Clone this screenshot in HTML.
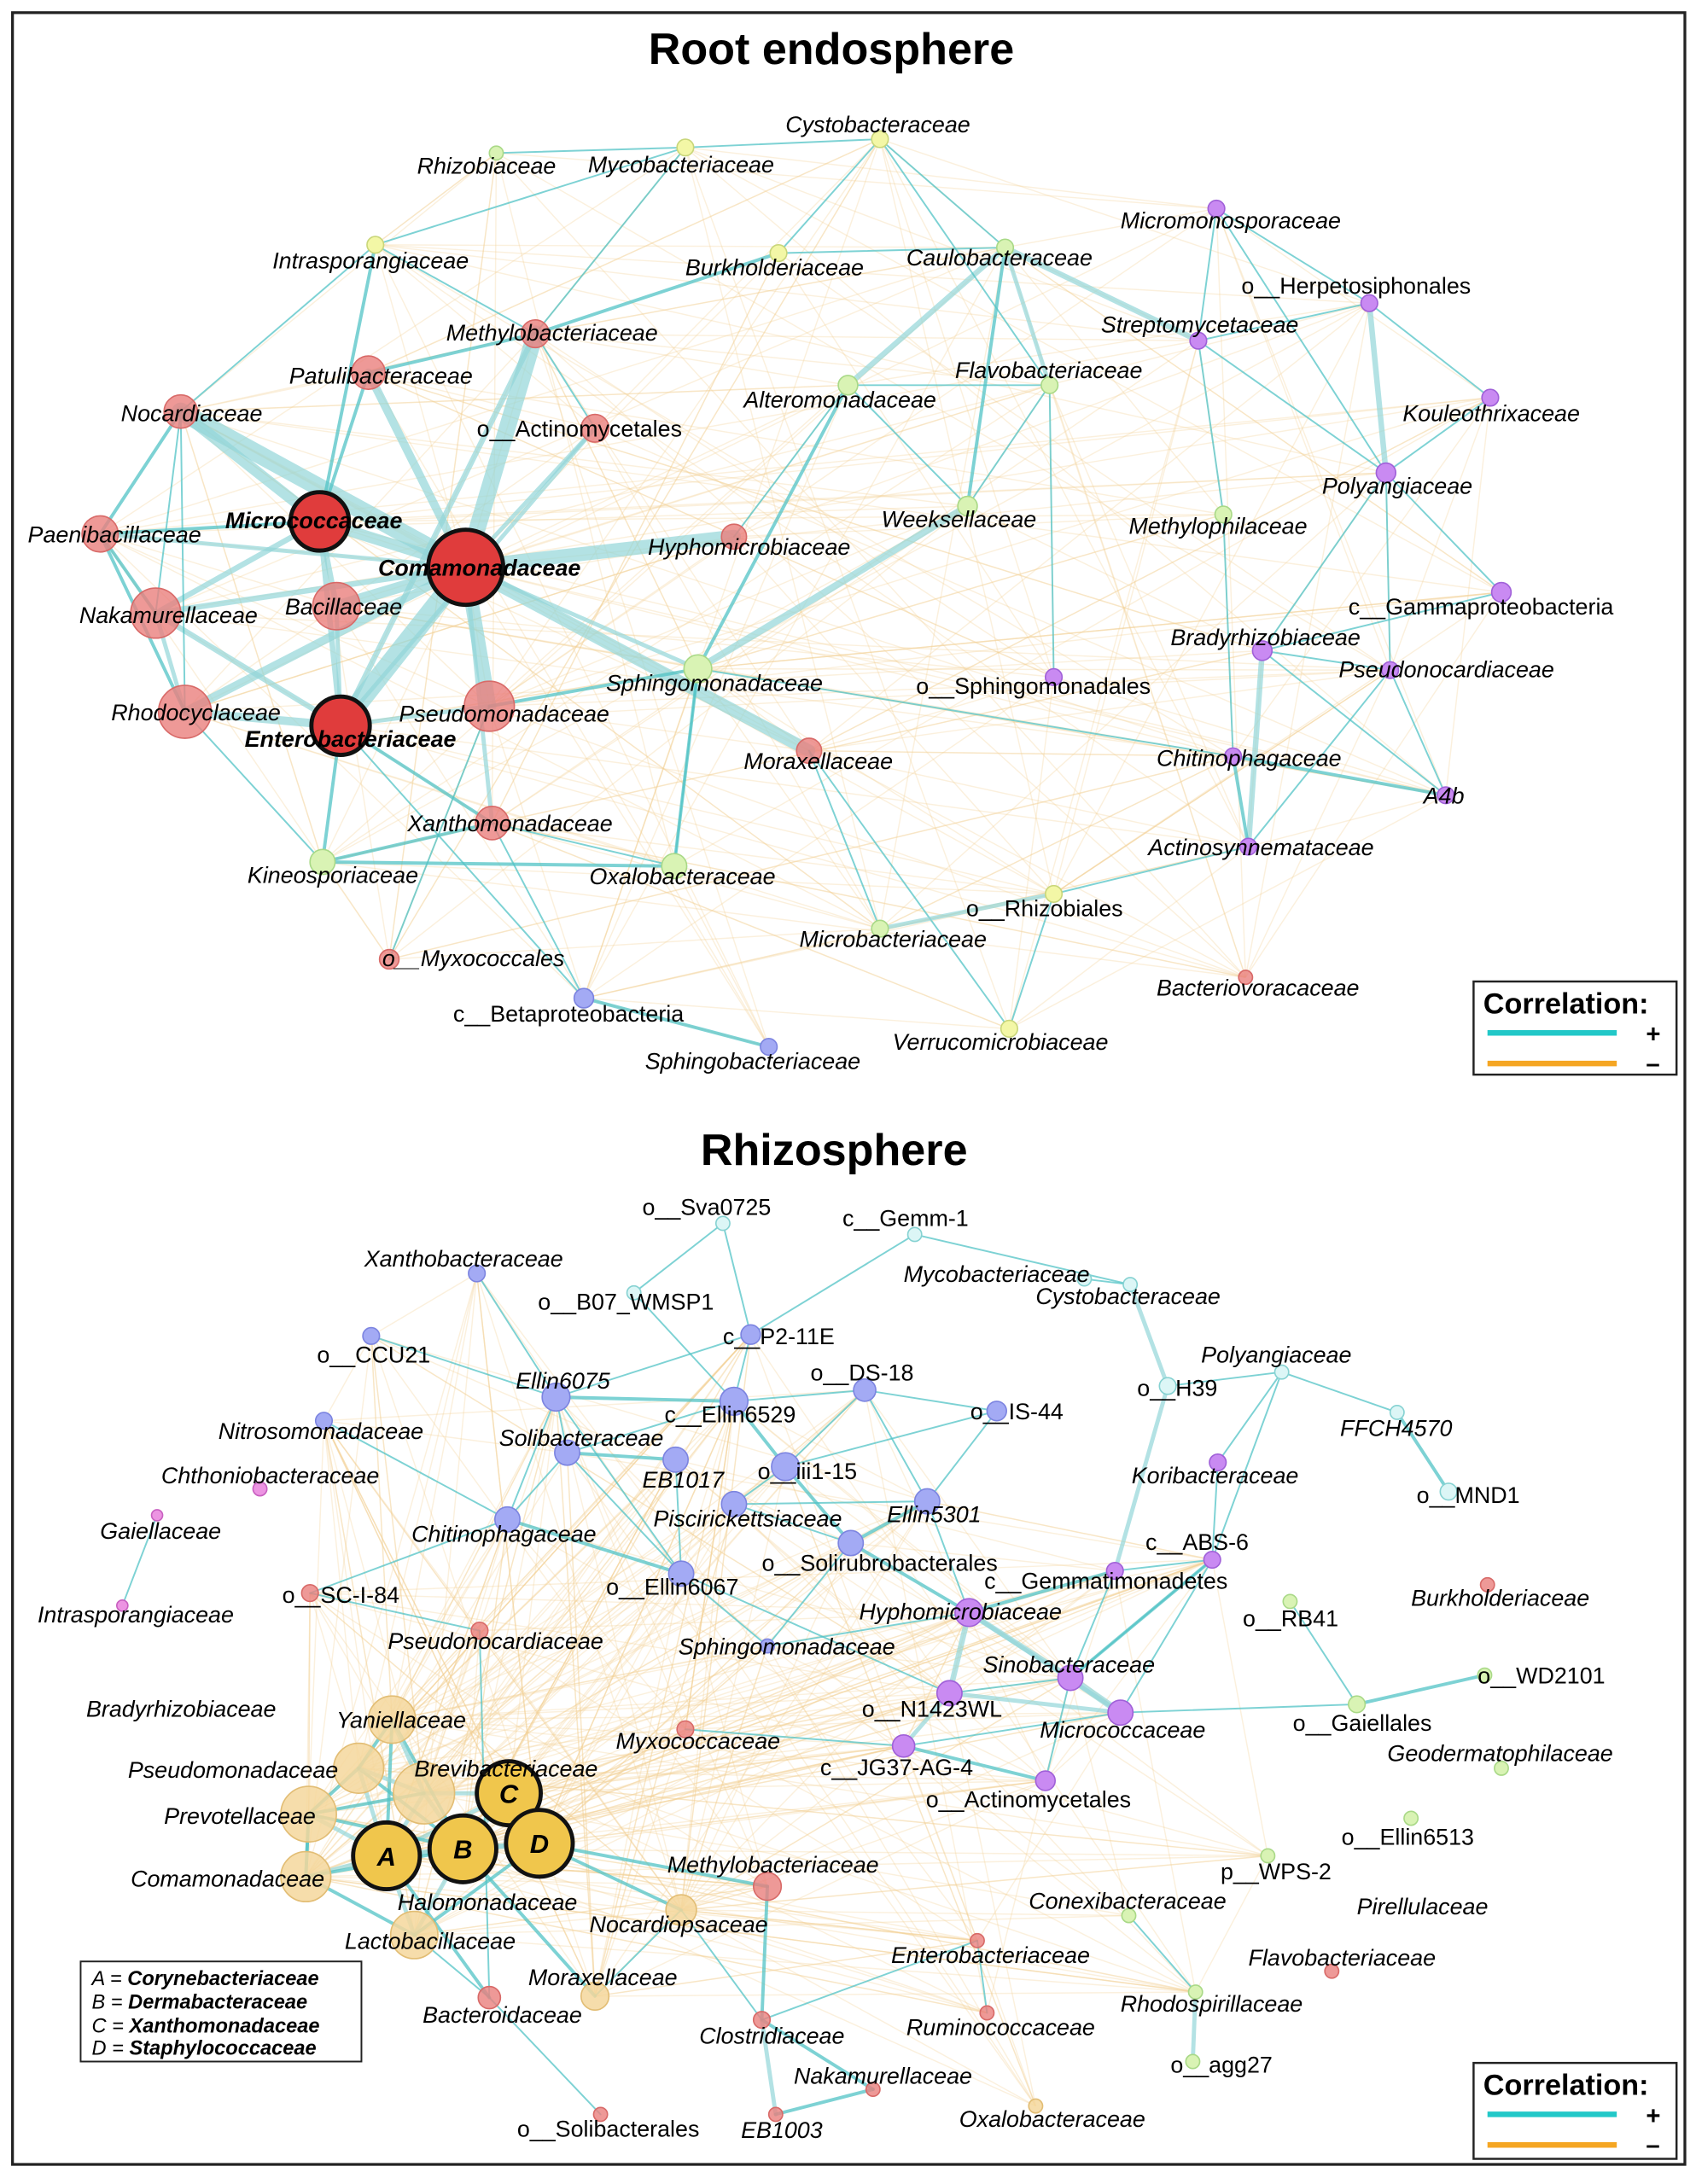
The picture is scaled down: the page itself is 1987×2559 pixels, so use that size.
<!DOCTYPE html>
<html><head><meta charset="utf-8">
<style>
html,body{margin:0;padding:0;background:#fff;}
svg{display:block;}
text{font-family:"Liberation Sans",sans-serif;}
</style></head>
<body>
<svg id="s" width="1987" height="2559" viewBox="0 0 1220 1571" xmlns="http://www.w3.org/2000/svg">
<rect x="0" y="0" width="1220" height="1571" fill="#fff"/>
<rect x="9" y="9" width="1203" height="1548" fill="none" stroke="#222" stroke-width="2"/>
<g id="beige"></g>
<g id="teal"></g>
<g id="nodes"></g>
<g id="labels"></g>
<text x="598" y="46" text-anchor="middle" font-size="32" font-weight="bold">Root endosphere</text>
<text x="600" y="838" text-anchor="middle" font-size="32" font-weight="bold">Rhizosphere</text>
<g>
<rect x="1060" y="706" width="146" height="67" fill="#fff" stroke="#222" stroke-width="1.5"/>
<text x="1067" y="729" font-size="21" font-weight="bold">Correlation:</text>
<line x1="1070" y1="743" x2="1163" y2="743" stroke="#22c8c8" stroke-width="4"/>
<text x="1184" y="750" font-size="18" font-weight="bold">+</text>
<line x1="1070" y1="765" x2="1163" y2="765" stroke="#f5a623" stroke-width="4"/>
<text x="1184" y="771" font-size="18" font-weight="bold">–</text>
</g>
<g>
<rect x="1060" y="1484" width="146" height="69" fill="#fff" stroke="#222" stroke-width="1.5"/>
<text x="1067" y="1507" font-size="21" font-weight="bold">Correlation:</text>
<line x1="1070" y1="1521" x2="1163" y2="1521" stroke="#22c8c8" stroke-width="4"/>
<text x="1184" y="1528" font-size="18" font-weight="bold">+</text>
<line x1="1070" y1="1543" x2="1163" y2="1543" stroke="#f5a623" stroke-width="4"/>
<text x="1184" y="1549" font-size="18" font-weight="bold">–</text>
</g>
<g>
<rect x="58" y="1411" width="202" height="72" fill="#fff" stroke="#222" stroke-width="1.2"/>
<text x="66" y="1428" font-size="14.5" font-style="italic">A = <tspan font-weight="bold">Corynebacteriaceae</tspan></text>
<text x="66" y="1445" font-size="14.5" font-style="italic">B = <tspan font-weight="bold">Dermabacteraceae</tspan></text>
<text x="66" y="1462" font-size="14.5" font-style="italic">C = <tspan font-weight="bold">Xanthomonadaceae</tspan></text>
<text x="66" y="1478" font-size="14.5" font-style="italic">D = <tspan font-weight="bold">Staphylococcaceae</tspan></text>
</g>
</svg>
<script>
var C={r:['#ea7f7d','#d86a68',0.8],R:['#e03c3c','#111',1],g:['#d9f3b4','#a9d987',1],y:['#f3f7a6','#c9d67a',1],p:['#c98af2','#a060d8',1],b:['#a3aaf4','#7c84e0',1],c:['#dcf6f6','#86d2d2',1],k:['#ec94e2','#c860c0',1],o:['#f5d79c','#e2bd74',0.85],G:['#f0c64c','#111',1]};
var N=[
['r1','Rhizobiaceae',357,110,5,'g',300,125,'i'],
['r2','Mycobacteriaceae',493,106,6,'y',423,124,'i'],
['r3','Cystobacteraceae',633,100,6,'y',565,95,'i'],
['r4','Intrasporangiaceae',270,176,6,'y',196,193,'i'],
['r5','Burkholderiaceae',560,182,6,'y',493,198,'i'],
['r6','Caulobacteraceae',723,178,6,'g',652,191,'i'],
['r7','Micromonosporaceae',875,150,6,'p',806,164,'i'],
['r8','o__Herpetosiphonales',985,218,6,'p',893,211,'n'],
['r9','Streptomycetaceae',862,245,6,'p',792,239,'i'],
['r10','Methylobacteriaceae',385,240,10,'r',321,245,'i'],
['r11','Patulibacteraceae',265,268,12,'r',208,276,'i'],
['r12','Nocardiaceae',130,296,12,'r',87,303,'i'],
['r13','o__Actinomycetales',428,308,10,'r',343,314,'n'],
['r14','Alteromonadaceae',610,277,7,'g',535,293,'i'],
['r15','Flavobacteriaceae',755,277,6,'g',687,272,'i'],
['r16','Kouleothrixaceae',1072,286,6,'p',1009,303,'i'],
['r17','Polyangiaceae',997,340,7,'p',951,355,'i'],
['r18','Micrococcaceae',230,375,21,'R',162,380,'b'],
['r19','Paenibacillaceae',72,384,13,'r',20,390,'i'],
['r20','Comamonadaceae',335,408,27,'R',272,414,'b'],
['r21','Hyphomicrobiaceae',528,386,9,'r',466,399,'i'],
['r22','Weeksellaceae',696,364,7,'g',634,379,'i'],
['r23','Methylophilaceae',880,370,6,'g',812,384,'i'],
['r24','c__Gammaproteobacteria',1080,426,7,'p',970,442,'n'],
['r25','Nakamurellaceae',112,441,18,'r',57,448,'i'],
['r26','Bacillaceae',242,436,17,'r',205,442,'i'],
['r27','Sphingomonadaceae',502,481,10,'g',436,497,'i'],
['r28','Bradyrhizobiaceae',908,468,7,'p',842,464,'i'],
['r29','o__Sphingomonadales',758,487,6,'p',659,499,'n'],
['r30','Pseudonocardiaceae',1000,482,6,'p',963,487,'i'],
['r31','Rhodocyclaceae',133,512,19,'r',80,518,'i'],
['r32','Enterobacteriaceae',245,522,21,'R',176,537,'b'],
['r33','Pseudomonadaceae',352,508,18,'r',287,519,'i'],
['r34','Moraxellaceae',582,540,9,'r',535,553,'i'],
['r35','Chitinophagaceae',887,544,6,'p',832,551,'i'],
['r36','A4b',1040,572,6,'p',1024,578,'i'],
['r37','Actinosynnemataceae',898,609,6,'p',826,615,'i'],
['r38','Xanthomonadaceae',354,592,12,'r',293,598,'i'],
['r39','Kineosporiaceae',232,620,9,'g',178,635,'i'],
['r40','Oxalobacteraceae',485,623,9,'g',424,636,'i'],
['r41','o__Rhizobiales',758,643,6,'y',695,659,'n'],
['r42','Microbacteriaceae',633,668,6,'g',575,681,'i'],
['r43','o__Myxococcales',280,690,7,'r',275,695,'i'],
['r44','Bacteriovoracaceae',896,703,5,'r',832,716,'i'],
['r45','c__Betaproteobacteria',420,718,7,'b',326,735,'n'],
['r46','Verrucomicrobiaceae',726,740,6,'y',642,755,'i'],
['r47','Sphingobacteriaceae',553,753,6,'b',464,769,'i'],
['z1','o__Sva0725',520,880,5,'c',462,874,'n'],
['z2','c__Gemm-1',658,888,5,'c',606,882,'n'],
['z3','Xanthobacteraceae',343,916,6,'b',262,911,'i'],
['z4','o__B07_WMSP1',456,930,5,'c',387,942,'n'],
['z5','Mycobacteriaceae',780,920,5,'c',650,922,'i'],
['z6','Cystobacteraceae',813,924,5,'c',745,938,'i'],
['z7','c__P2-11E',540,960,7,'b',520,967,'n'],
['z8','o__CCU21',267,961,6,'b',228,980,'n'],
['z9','o__DS-18',622,1000,8,'b',583,993,'n'],
['z10','Polyangiaceae',922,987,5,'c',864,980,'i'],
['z11','o__H39',840,997,6,'c',818,1004,'n'],
['z12','FFCH4570',1005,1016,5,'c',964,1033,'i'],
['z13','Ellin6075',400,1005,10,'b',371,999,'i'],
['z14','c__Ellin6529',528,1008,10,'b',478,1023,'n'],
['z15','o__IS-44',717,1015,7,'b',698,1021,'n'],
['z16','Nitrosomonadaceae',233,1022,6,'b',157,1035,'i'],
['z17','Solibacteraceae',408,1045,9,'b',359,1040,'i'],
['z18','EB1017',486,1050,9,'b',462,1070,'i'],
['z19','o__iii1-15',565,1055,10,'b',545,1064,'n'],
['z20','Koribacteraceae',876,1052,6,'p',814,1067,'i'],
['z21','o__MND1',1042,1073,6,'c',1019,1081,'n'],
['z22','Chthoniobacteraceae',187,1071,5,'k',116,1067,'i'],
['z23','Piscirickettsiaceae',528,1082,9,'b',470,1098,'i'],
['z24','Ellin5301',667,1080,9,'b',638,1095,'i'],
['z25','Chitinophagaceae',365,1093,9,'b',296,1109,'i'],
['z26','Gaiellaceae',113,1090,4,'k',72,1107,'i'],
['z27','c__ABS-6',872,1122,6,'p',824,1115,'n'],
['z28','o__Solirubrobacterales',612,1110,9,'b',548,1130,'n'],
['z29','o__Ellin6067',490,1132,9,'b',436,1147,'n'],
['z30','c__Gemmatimonadetes',802,1130,6,'p',708,1143,'n'],
['z31','o__SC-I-84',223,1146,6,'r',203,1153,'n'],
['z32','Burkholderiaceae',1070,1140,5,'r',1015,1155,'i'],
['z33','Intrasporangiaceae',88,1155,4,'k',27,1167,'i'],
['z34','o__RB41',928,1152,5,'g',894,1170,'n'],
['z35','Hyphomicrobiaceae',697,1160,10,'p',618,1165,'i'],
['z36','Pseudonocardiaceae',345,1173,6,'r',279,1186,'i'],
['z37','Sphingomonadaceae',552,1184,5,'b',488,1190,'i'],
['z38','Sinobacteraceae',770,1207,9,'p',707,1203,'i'],
['z39','o__WD2101',1068,1205,5,'g',1063,1211,'n'],
['z40','o__N1423WL',683,1218,9,'p',620,1235,'n'],
['z41','Yaniellaceae',282,1237,17,'o',242,1243,'i'],
['z42','o__Gaiellales',976,1226,6,'g',930,1245,'n'],
['z43','Micrococcaceae',806,1232,9,'p',748,1250,'i'],
['z44','Myxococcaceae',493,1244,6,'r',443,1258,'i'],
['z45','c__JG37-AG-4',650,1256,8,'p',590,1277,'n'],
['z46','Pseudomonadaceae',258,1272,18,'o',92,1279,'i'],
['z47','Brevibacteriaceae',305,1290,22,'o',298,1278,'i'],
['z49','Geodermatophilaceae',1080,1272,5,'g',998,1267,'i'],
['z50','o__Actinomycetales',752,1281,7,'p',666,1300,'n'],
['z51','Prevotellaceae',222,1305,20,'o',118,1312,'i'],
['z55','o__Ellin6513',1015,1308,5,'g',965,1327,'n'],
['z56','p__WPS-2',912,1335,5,'g',878,1352,'n'],
['z57','Comamonadaceae',220,1350,18,'o',94,1357,'i'],
['z58','Methylobacteriaceae',552,1357,10,'r',480,1347,'i'],
['z59','Nocardiopsaceae',490,1374,11,'o',424,1390,'i'],
['z60','Conexibacteraceae',812,1378,5,'g',740,1373,'i'],
['z61','Lactobacillaceae',298,1392,17,'o',248,1402,'i'],
['z62','Enterobacteriaceae',703,1396,5,'r',641,1412,'i'],
['z63','Flavobacteriaceae',958,1418,5,'r',898,1414,'i'],
['z64','Moraxellaceae',428,1436,10,'o',380,1428,'i'],
['z65','Rhodospirillaceae',860,1433,5,'g',806,1447,'i'],
['z66','Bacteroidaceae',352,1437,8,'r',304,1455,'i'],
['z67','Ruminococcaceae',710,1448,5,'r',652,1464,'i'],
['z68','Clostridiaceae',548,1453,6,'r',503,1470,'i'],
['z69','o__agg27',858,1483,5,'g',842,1491,'n'],
['z70','Nakamurellaceae',628,1503,5,'r',571,1499,'i'],
['z71','Oxalobacteraceae',745,1515,5,'o',690,1530,'i'],
['z72','o__Solibacterales',432,1521,5,'r',372,1537,'n'],
['z73','EB1003',558,1521,5,'r',533,1538,'i'],
['z48','C',366,1290,23,'G',366,1297,'L'],
['z52','A',278,1335,24,'G',278,1342,'L'],
['z53','B',333,1330,24,'G',333,1337,'L'],
['z54','D',388,1326,24,'G',388,1333,'L']
];
var M={};N.forEach(function(n){M[n[0]]=n;});
var T=[
['r20','r12',13],['r20','r18',8],['r20','r10',12],['r20','r11',6],['r20','r32',14],['r20','r26',8],['r20','r21',10],['r20','r34',9],['r20','r33',10],['r20','r25',4],['r20','r31',6],['r20','r19',3],['r20','r38',3],['r20','r13',3],['r20','r27',3],
['r18','r12',8],['r18','r25',4],['r18','r26',4],['r18','r32',4],['r18','r11',2],['r18','r4',2],['r18','r19',2],
['r32','r31',6],['r32','r25',4],['r32','r10',4],['r32','r33',3],['r32','r38',2],['r32','r39',2],['r32','r13',3],['r32','r26',3],
['r25','r31',3],['r19','r31',2],['r19','r25',2],['r12','r19',2],['r12','r31',1],['r12','r25',1],
['r27','r22',5],['r27','r33',2],['r27','r14',2],['r27','r40',2],
['r6','r14',4],['r6','r9',4],['r6','r15',3],['r6','r22',2],['r6','r5',1],
['r10','r5',2],['r10','r2',1],['r2','r1',1],['r2','r3',1],['r3','r5',1],['r3','r6',1],['r3','r15',1],['r4','r10',1],['r4','r2',1],['r11','r10',2],
['r17','r8',4],['r17','r16',1],['r17','r24',1],['r7','r17',1],['r7','r8',1],['r9','r8',1],['r8','r16',1],['r9','r23',1],['r9','r17',1],['r7','r9',1],
['r28','r37',4],['r28','r24',1],['r28','r30',1],['r28','r36',1],['r35','r36',2],['r35','r37',2],['r37','r30',1],['r30','r36',1],['r17','r30',1],['r17','r28',1],
['r29','r15',1],['r34','r42',1],['r34','r46',1],['r42','r41',3],['r41','r46',1],['r41','r37',1],['r39','r40',2],['r39','r38',2],['r38','r45',1],['r45','r47',2],['r43','r33',1],['r45','r32',1],['r38','r40',1],['r22','r14',1],['r35','r27',1],['r22','r15',1],['r21','r14',1],['r13','r10',1],['r12','r4',1],['r39','r31',1],['r40','r27',1],['r14','r15',1],['r23','r35',1],
['z52','z53',4],['z53','z54',4],['z48','z54',4],['z48','z53',4],['z52','z48',3],['z52','z54',3],['z47','z52',3],['z47','z53',3],['z47','z48',3],['z41','z52',2],['z41','z53',2],['z41','z47',3],['z46','z52',3],['z46','z53',2],['z46','z47',3],['z51','z52',3],['z51','z53',2],['z51','z47',2],['z57','z52',3],['z57','z53',2],['z57','z51',2],['z61','z52',3],['z61','z53',3],['z61','z54',2],['z41','z46',2],['z46','z51',2],['z51','z57',2],['z57','z61',2],
['z58','z54',2],['z59','z54',2],['z64','z53',2],['z66','z52',2],['z66','z61',1],['z64','z59',1],['z68','z58',2],['z68','z70',2],['z68','z73',3],['z70','z73',2],['z68','z59',1],['z72','z66',1],
['z35','z40',4],['z35','z38',4],['z35','z43',3],['z38','z43',5],['z40','z45',3],['z40','z43',3],['z45','z50',2],['z35','z30',2],['z38','z27',2],['z35','z28',2],['z28','z24',2],['z28','z19',2],['z14','z13',2],['z14','z19',2],['z18','z17',2],['z25','z29',2],
['z13','z8',1],['z13','z3',1],['z13','z7',1],['z7','z2',1],['z2','z6',1],['z5','z6',1],['z6','z11',3],['z11','z10',1],['z10','z12',1],['z12','z21',2],['z11','z30',3],['z20','z27',1],['z10','z27',1],['z27','z43',1],['z34','z42',1],['z42','z39',2],['z42','z43',1],['z26','z33',1],['z25','z16',1],['z25','z31',1],['z25','z13',1],['z9','z15',1],['z9','z24',1],['z15','z19',1],['z23','z24',1],['z37','z28',1],['z65','z69',3],['z65','z60',1],['z44','z45',1],['z29','z18',1],['z29','z40',1],['z1','z4',1],['z4','z14',1],['z1','z7',1],['z36','z66',1],['z31','z36',1],['z17','z25',1],['z13','z17',1],['z14','z17',1],['z19','z23',1],['z23','z28',1],['z9','z14',1],['z7','z14',1],['z13','z29',1],['z17','z29',1],['z24','z35',1],['z30','z38',1],['z27','z38',1],['z27','z30',1],['z20','z10',1],['z40','z38',1],['z45','z43',1],['z50','z38',1],['z35','z37',1],['z29','z37',1],['z24','z15',1],['z19','z9',1],['z62','z67',1],['z68','z62',1]
];
var ns='http://www.w3.org/2000/svg';
function el(t,a,p){var e=document.createElementNS(ns,t);for(var k in a)e.setAttribute(k,a[k]);p.appendChild(e);return e;}
var seed=7;function rnd(){seed=(seed*16807)%2147483647;return seed/2147483647;}
var bg=document.getElementById('beige');
var BO=0.32;
var rootIds=N.filter(function(n){return n[0][0]=='r';}).map(function(n){return n[0];});
for(var i=0;i<260;i++){var a=M[rootIds[Math.floor(rnd()*rootIds.length)]],b=M[rootIds[Math.floor(rnd()*rootIds.length)]];if(a==b)continue;
el('line',{x1:a[2],y1:a[3],x2:b[2],y2:b[3],stroke:'#f2cf95','stroke-width':0.9,'stroke-opacity':BO},bg);}
var gold=['z52','z53','z54','z48','z47','z41','z46','z51','z57','z61','z59','z64'];
var tgt=['z13','z14','z17','z18','z19','z23','z24','z25','z28','z29','z35','z36','z37','z38','z40','z43','z44','z45','z50','z58','z9','z7','z16','z31','z62','z65','z60','z30','z27','z56','z71','z67','z3','z8'];
for(var i=0;i<260;i++){var a=M[gold[Math.floor(rnd()*gold.length)]],b=M[tgt[Math.floor(rnd()*tgt.length)]];
el('line',{x1:a[2],y1:a[3],x2:b[2],y2:b[3],stroke:'#f2cf95','stroke-width':0.9,'stroke-opacity':BO},bg);}
for(var i=0;i<80;i++){var a=M[tgt[Math.floor(rnd()*tgt.length)]],b=M[tgt[Math.floor(rnd()*tgt.length)]];if(a==b)continue;
el('line',{x1:a[2],y1:a[3],x2:b[2],y2:b[3],stroke:'#f2cf95','stroke-width':0.9,'stroke-opacity':BO},bg);}
var tg=document.getElementById('teal');
T.forEach(function(e){var a=M[e[0]],b=M[e[1]];if(!a||!b)return;var w=e[2];
el('line',{x1:a[2],y1:a[3],x2:b[2],y2:b[3],stroke:w>2?'#93d5d8':'#52c3c5','stroke-width':w>2?w:1.2*w,'stroke-opacity':w>2?0.7:0.75,'stroke-linecap':'round'},tg);});
var ng=document.getElementById('nodes'),lg=document.getElementById('labels');
N.forEach(function(n){var c=C[n[5]];var bold=(n[5]=='R'||n[5]=='G');
el('circle',{cx:n[2],cy:n[3],r:n[4],fill:c[0],'fill-opacity':c[2],stroke:c[1],'stroke-width':bold?3:1},ng);
var t;
if(n[8]=='L'){t=el('text',{x:n[6],y:n[7],'font-size':19,'font-weight':'bold','font-style':'italic','text-anchor':'middle'},lg);}
else{var a={x:n[6],y:n[7],'font-size':16.5};if(n[8]!='n')a['font-style']='italic';if(n[8]=='b')a['font-weight']='bold';t=el('text',a,lg);}
t.textContent=n[1];});
var bt=el('text',{x:62,y:1235,'font-size':16.5,'font-style':'italic'},lg);bt.textContent='Bradyrhizobiaceae';
var ht=el('text',{x:286,y:1374,'font-size':16.5,'font-style':'italic'},lg);ht.textContent='Halomonadaceae';
var pt=el('text',{x:976,y:1377,'font-size':16.5,'font-style':'italic'},lg);pt.textContent='Pirellulaceae';
</script>
</body></html>
